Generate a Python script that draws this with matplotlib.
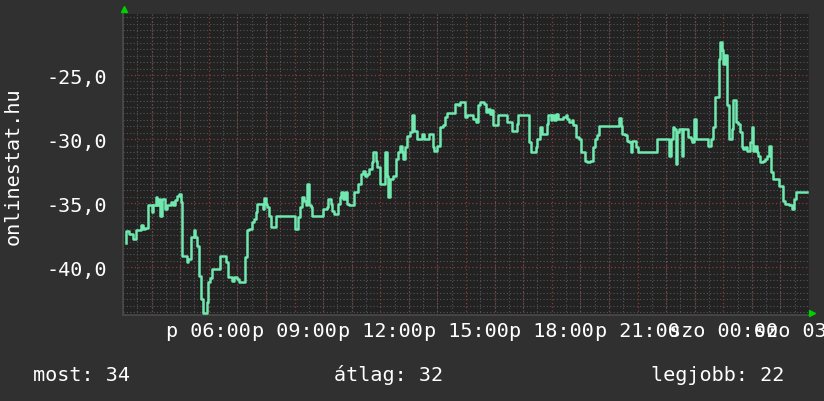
import matplotlib
matplotlib.use("Agg")
import matplotlib.pyplot as plt
from matplotlib.ticker import MultipleLocator, FuncFormatter

# hours since midnight Friday (27 = Saturday 03:00), value changes (step data)
hours = [3.09, 3.105, 3.222, 3.362, 3.467, 3.63, 3.688, 3.77, 3.886, 4.026, 4.061, 4.143, 4.19,
         4.248, 4.295, 4.353, 4.47, 4.528, 4.668, 4.761, 4.82, 4.901, 4.971, 5.018, 5.076, 5.228,
         5.286, 5.368, 5.484, 5.531, 5.601, 5.671, 5.718, 5.788, 5.928, 5.986, 6.044, 6.126, 6.394,
         6.604, 6.686, 6.802, 6.884, 6.977, 7.07, 7.28, 7.327, 7.42, 7.502, 7.584, 7.642, 7.7,
         7.887, 7.933, 7.992, 8.05, 8.108, 8.167, 8.353,
         9.018, 9.111, 9.193, 9.274, 9.344, 9.403, 9.449, 9.508, 9.566, 9.624, 10.009, 10.126,
         10.184, 10.266, 10.324, 10.394, 10.534, 10.592, 10.639, 10.709, 10.767, 10.849, 10.919,
         11.082, 11.234, 11.315, 11.409, 11.467, 11.549, 11.607, 11.70, 11.759, 11.84, 11.899,
         11.992, 12.167, 12.225, 12.283, 12.342, 12.458, 12.552, 12.633, 12.692, 12.762, 12.808,
         12.867, 12.948, 13.042, 13.10, 13.182, 13.275, 13.473, 13.543, 13.706,
         13.835, 13.882, 13.999, 14.092, 14.185, 14.267, 14.349, 14.617, 14.733, 14.792, 14.967,
         15.025, 15.258, 15.34, 15.433, 15.492, 15.643, 15.701, 15.783, 15.841, 15.90, 15.958,
         16.133, 16.448, 16.60, 16.798, 16.833, 17.206, 17.264, 17.451, 17.498, 17.591, 17.649,
         17.824, 17.882, 17.964, 18.022, 18.08, 18.15, 18.232, 18.384, 18.489, 18.547, 18.605,
         18.699, 18.757, 18.839, 18.955, 19.014, 19.165, 19.247, 19.34,
         19.433, 19.515, 19.573, 19.667, 20.355, 20.413, 20.448, 20.565, 20.623, 20.716, 20.763,
         20.821, 20.891, 20.938, 21.008, 21.673, 22.104, 22.162, 22.232, 22.291, 22.337, 22.396,
         22.466, 22.547, 22.606, 22.781, 22.862, 22.921, 22.991, 23.049, 23.48, 23.562, 23.632,
         23.714, 23.842, 23.889, 23.947, 24.005, 24.064, 24.145, 24.215, 24.297, 24.355, 24.448,
         24.53, 24.588, 24.647, 24.705, 24.763, 24.822, 24.938, 24.997, 25.055, 25.113, 25.172,
         25.23, 25.288, 25.405, 25.463, 25.521, 25.603, 25.661, 25.731, 25.965, 26.105, 26.163,
         26.303, 26.396, 26.478, 26.548, 26.93]
values = [-38.1, -37.14, -37.4, -37.79, -37.09, -36.7, -37.01, -36.9, -35.11, -35.65, -35.11, -34.51,
          -35.13, -34.66, -35.97, -34.66, -35.45, -35.11, -34.92, -35.13, -34.72, -34.4, -34.27,
          -34.92, -39.14, -39.56, -39.35, -37.66, -37.09, -37.66, -38.31, -40.7, -42.48, -43.57,
          -42.74, -41.17, -40.86, -40.13, -39.14, -39.61, -40.78, -41.04, -40.73, -40.91, -41.12,
          -39.22, -37.09, -37.01, -36.49, -36.23, -35.71, -35.05, -35.45, -34.61, -35.05, -35.31,
          -35.97, -36.88, -36.02,
          -37.01, -36.10, -35.32, -34.53, -34.79, -35.18, -33.49, -35.18, -35.32, -36.02, -35.45,
          -35.32, -34.66, -35.05, -35.58, -35.84, -35.05, -34.53, -34.14, -34.66, -34.14, -35.05,
          -35.18, -34.14, -33.49, -32.71, -32.45, -32.84, -32.71, -32.32, -31.80, -31.02, -31.67,
          -32.19, -33.49, -31.02, -32.84, -34.53, -33.10, -32.84, -31.54, -31.02, -30.50, -31.02,
          -31.54, -30.63, -29.72, -29.46, -28.15, -29.33, -30.03, -29.59, -29.98, -29.59,
          -30.63, -30.89, -30.50, -29.07, -28.93, -28.28, -27.95, -27.24, -27.37, -27.11, -28.28,
          -28.10, -28.41, -28.67, -27.37, -27.11, -27.24, -27.89, -27.63, -28.02, -27.76, -28.93,
          -28.10, -28.67, -29.40, -28.80, -28.10, -30.24, -31.02, -30.63, -29.98, -29.07, -29.59,
          -28.80, -28.15, -28.54, -28.10, -28.54, -28.02, -28.41, -28.28, -28.10, -28.41, -28.67,
          -28.54, -28.88, -29.85, -29.98, -31.02, -31.67, -31.80, -31.67,
          -30.63, -29.98, -29.66, -29.01, -28.36, -28.94, -29.59, -29.66, -30.11, -30.24, -31.02,
          -30.11, -30.18, -30.63, -31.02, -30.03, -31.28, -29.98, -29.06, -29.20, -31.93, -29.46,
          -29.20, -31.28, -29.25, -29.85, -29.98, -30.24, -28.41, -29.98, -30.50, -29.98, -29.06,
          -26.72, -23.73, -22.42, -23.08, -24.12, -23.47, -27.37, -29.98, -29.20, -26.98, -28.67,
          -28.80, -29.46, -30.63, -30.81, -30.63, -30.89, -30.24, -29.06, -30.89, -30.50, -31.02,
          -31.28, -31.75, -31.67, -31.54, -31.28, -30.50, -32.58, -33.10, -33.62, -34.79, -35.05,
          -35.13, -35.45, -34.66, -34.14, -34.14]

tick_hours = [6, 9, 12, 15, 18, 21, 24, 27]
tick_labels = ["p 06:00", "p 09:00", "p 12:00", "p 15:00", "p 18:00", "p 21:00",
               "szo 00:00", "szo 03:00"]
stats = ["most: 34", "átlag: 32", "legjobb: 22"]

mono = "DejaVu Sans Mono"
fs = 14.5

fig = plt.figure(figsize=(8.24, 4.02), dpi=100, facecolor="#303030")
ax = fig.add_axes([123 / 824, 86.3 / 402, 686 / 824, 301.2 / 402])
ax.set_facecolor("#222222")

ax.set_xlim(3, 27)
ax.set_ylim(-43.7, -20.2)

# grid: grey dotted minor, red dotted major
ax.xaxis.set_minor_locator(MultipleLocator(0.5))
ax.yaxis.set_minor_locator(MultipleLocator(0.5))
ax.grid(which="minor", color="#555555", linestyle=(0, (1, 2)), linewidth=0.8)
ax.grid(which="major", visible=False)
for h in range(4, 28):
    ax.axvline(h, color="#8c3b3b", linestyle=(0, (1, 2)), linewidth=0.9, zorder=1)
for v in [-25, -30, -35, -40]:
    ax.axhline(v, color="#8c3b3b", linestyle=(0, (1, 2)), linewidth=0.9, zorder=1)

ax.step(hours, values, where="post", color="#70e8b0", linewidth=1.8, zorder=3)

ax.set_xticks(tick_hours)
ax.set_xticklabels(tick_labels, fontfamily=mono, fontsize=fs, color="white")
ax.set_yticks([-40, -35, -30, -25])
ax.yaxis.set_major_formatter(FuncFormatter(lambda v, p: f"{v:.1f}".replace(".", ",")))
for lab in ax.get_yticklabels():
    lab.set_fontfamily(mono)
ax.tick_params(axis="y", which="major", length=0, pad=11.5, labelsize=fs, labelcolor="white")
ax.tick_params(axis="x", which="major", length=0, pad=4.5, labelsize=fs, labelcolor="white")
ax.tick_params(which="minor", length=0)

for s in ["top", "right"]:
    ax.spines[s].set_visible(False)
for s in ["left", "bottom"]:
    ax.spines[s].set_color("#4a4a4a")
    ax.spines[s].set_linewidth(1.2)

# little green arrows at the axis ends
ax.plot([0.0015], [1.015], marker="^", color="#00d000", markersize=5, transform=ax.transAxes,
        clip_on=False, zorder=5)
ax.plot([1.004], [0.005], marker=">", color="#00d000", markersize=5, transform=ax.transAxes,
        clip_on=False, zorder=5)

fig.text(13 / 824, 1 - 166 / 402, "onlinestat.hu", rotation=90, ha="center", va="center",
         fontfamily=mono, fontsize=fs, color="white")

for x0, txt in zip([33, 334, 651], stats):
    fig.text(x0 / 824, (402 - 381) / 402, txt, ha="left", va="baseline",
             fontfamily=mono, fontsize=fs, color="white")

fig.savefig("out.png", dpi=100, facecolor=fig.get_facecolor())
